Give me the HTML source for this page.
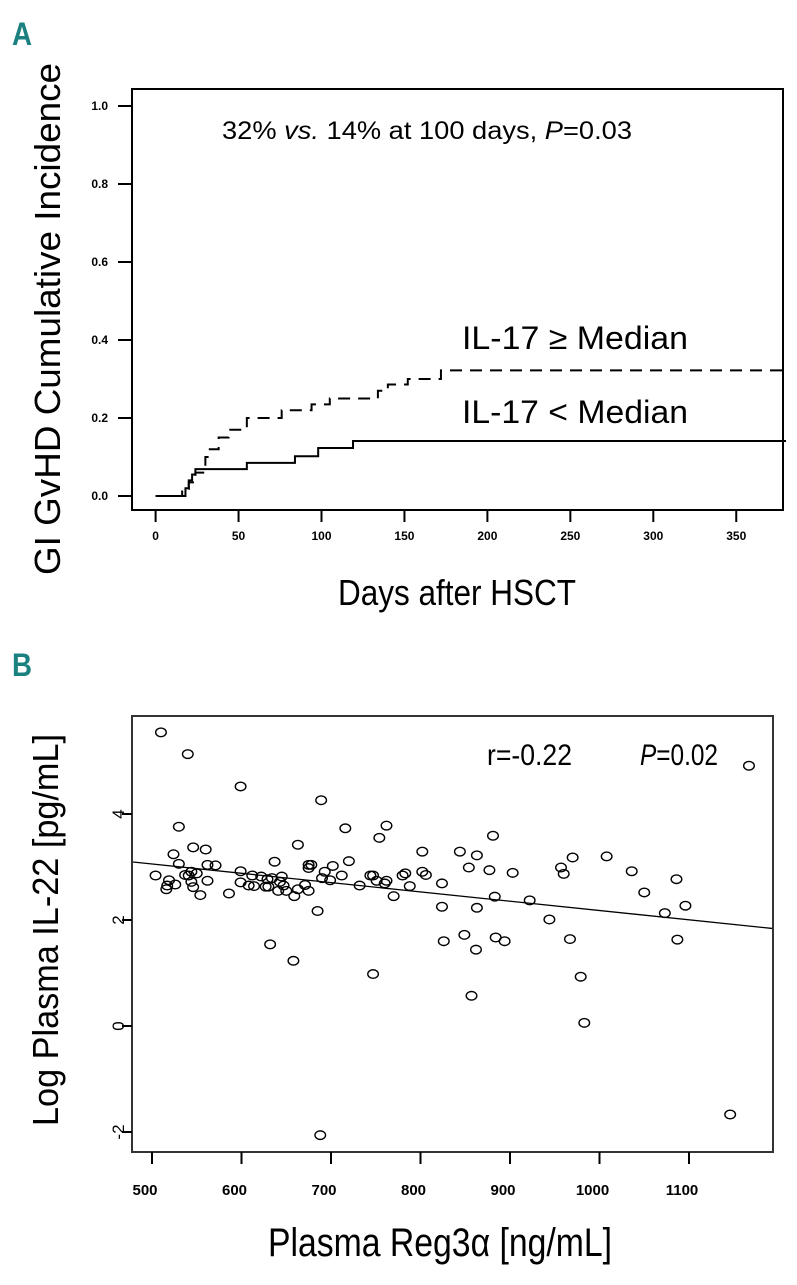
<!DOCTYPE html>
<html><head><meta charset="utf-8">
<style>
body{margin:0;background:#fff;}
svg text{font-family:"Liberation Sans",sans-serif;}
</style></head>
<body>
<svg id="fig" width="797" height="1280" viewBox="0 0 797 1280" xmlns="http://www.w3.org/2000/svg">
<text x="12" y="45" font-size="32" font-weight="bold" fill="#1a8080" textLength="20" lengthAdjust="spacingAndGlyphs">A</text>
<text x="12" y="676" font-size="32" font-weight="bold" fill="#1a8080" textLength="20" lengthAdjust="spacingAndGlyphs">B</text>
<g id="pa"></g>
<g id="pb"></g>
</svg>
<script>
// Panel A data
const xTicksA = [0,50,100,150,200,250,300,350];
const yTicksA = [0.0,0.2,0.4,0.6,0.8,1.0];
const highDays = [0,16,20,24,30,32,38,44,55,76,94,105,134,140,152,172];
const highVals = [0,0.018,0.035,0.06,0.1,0.12,0.15,0.17,0.2,0.22,0.235,0.25,0.27,0.286,0.30,0.322];
const lowDays = [0,18,20,22,24,55,84,98,119];
const lowVals = [0,0.02,0.04,0.055,0.069,0.085,0.102,0.123,0.141];
const endDay = 380;
// Panel B data
const xTicksB = [500,600,700,800,900,1000,1100];
const yTicksB = [-2,0,2,4];
const reg3 = [510,540,599,689,530,716,762,754,663,546,560,524,802,844,863,530,637,720,854,562,571,675,678,675,702,504,519,516,517,526,537,541,544,550,544,546,554,562,586,599,599,608,614,612,622,627,630,629,634,645,643,647,641,650,659,663,671,675,685,690,693,699,712,732,744,747,751,760,762,770,780,783,788,802,806,824,824,863,632,658,747,826,849,862,857,688,1167,881,877,903,957,960,970,1008,1036,1086,1050,883,922,944,1073,1096,884,894,967,1087,979,983,1146];
const il22 = [5.54,5.13,4.52,4.26,3.76,3.73,3.78,3.55,3.42,3.37,3.33,3.24,3.29,3.29,3.22,3.06,3.10,3.11,2.99,3.04,3.03,3.04,3.04,2.98,3.02,2.84,2.75,2.58,2.65,2.67,2.85,2.84,2.91,2.88,2.72,2.62,2.47,2.74,2.50,2.92,2.71,2.65,2.64,2.84,2.82,2.63,2.63,2.77,2.79,2.82,2.72,2.65,2.55,2.55,2.45,2.58,2.66,2.55,2.17,2.79,2.91,2.75,2.84,2.65,2.84,2.84,2.74,2.69,2.74,2.45,2.84,2.88,2.64,2.91,2.85,2.69,2.25,2.23,1.54,1.23,0.98,1.60,1.72,1.44,0.57,-2.06,4.91,3.59,2.94,2.89,2.99,2.87,3.18,3.20,2.92,2.77,2.52,2.44,2.37,2.01,2.13,2.27,1.67,1.60,1.64,1.63,0.93,0.06,-1.67];
const fitIntercept = 3.934;
const fitSlope = -0.001755;

const NS="http://www.w3.org/2000/svg";
function mk(parent,tag,attrs,txt){const e=document.createElementNS(NS,tag);for(const k in attrs)e.setAttribute(k,attrs[k]);if(txt!==undefined)e.textContent=txt;parent.appendChild(e);return e;}

// ---- Panel A ----
const pa=document.getElementById('pa');
const axA={l:132,r:783,t:89,b:510};
const xA=d=>155.6+d*1.659;
const yA=v=>496-v*390;
let e;
e=mk(pa,'rect',{x:axA.l,y:axA.t,width:axA.r-axA.l,height:axA.b-axA.t,fill:'none',stroke:'#000','stroke-width':2});


xTicksA.forEach(t=>{
  e=mk(pa,'line',{x1:xA(t),x2:xA(t),y1:axA.b,y2:axA.b+12,stroke:'#000','stroke-width':2});
  
  
  e=mk(pa,'text',{x:xA(t),y:axA.b+30,'font-size':12,'font-weight':'bold','text-anchor':'middle'},String(t));
  
  
});
yTicksA.forEach(t=>{
  e=mk(pa,'line',{x1:axA.l-14,x2:axA.l,y1:yA(t),y2:yA(t),stroke:'#000','stroke-width':2});
  
  
  e=mk(pa,'text',{x:axA.l-24,y:yA(t)+4,'font-size':12,'font-weight':'bold','text-anchor':'end'},t.toFixed(1));
  
  
});
function stepPath(days,vals){let d=`M${xA(days[0])},${yA(vals[0])}`;for(let i=1;i<days.length;i++){d+=` H${xA(days[i])} V${yA(vals[i])}`;}d+=` H${xA(endDay)}`;return d;}
e=mk(pa,'path',{d:stepPath(highDays,highVals),fill:'none',stroke:'#000','stroke-width':2,'stroke-dasharray':'12,8'});


e=mk(pa,'path',{d:stepPath(lowDays,lowVals),fill:'none',stroke:'#000','stroke-width':2});


e=mk(pa,'text',{x:222,y:139,'font-size':25,textLength:410,lengthAdjust:'spacingAndGlyphs'});
e.innerHTML='32% <tspan font-style="italic">vs.</tspan> 14% at 100 days, <tspan font-style="italic">P</tspan>=0.03';


e=mk(pa,'text',{x:462,y:349,'font-size':32,textLength:226,lengthAdjust:'spacingAndGlyphs'},'IL-17 ≥ Median');


e=mk(pa,'text',{x:462,y:423,'font-size':32,textLength:226,lengthAdjust:'spacingAndGlyphs'},'IL-17 < Median');


e=mk(pa,'text',{x:338,y:605,'font-size':36,textLength:238,lengthAdjust:'spacingAndGlyphs'},'Days after HSCT');


e=mk(pa,'text',{x:0,y:0,'font-size':36,'text-anchor':'middle',textLength:512,lengthAdjust:'spacingAndGlyphs',transform:'translate(60,319) rotate(-90)'},'GI GvHD Cumulative Incidence');



// ---- Panel B ----
const pb=document.getElementById('pb');
const axB={l:132,r:773,t:716,b:1152};
const xB=v=>152+(v-500)*0.895;
const yB=v=>1026-v*53;
const invX=p=>500+(p-152)/0.895;
e=mk(pb,'rect',{x:axB.l,y:axB.t,width:axB.r-axB.l,height:axB.b-axB.t,fill:'none',stroke:'#333','stroke-width':2});


xTicksB.forEach(t=>{
  e=mk(pb,'line',{x1:xB(t),x2:xB(t),y1:axB.b,y2:axB.b+12,stroke:'#000','stroke-width':2});
  
  
  e=mk(pb,'text',{x:xB(t)-7,y:axB.b+43,'font-size':15,'font-weight':'bold','text-anchor':'middle'},String(t));
  
  
});
yTicksB.forEach(t=>{
  e=mk(pb,'line',{x1:axB.l-10,x2:axB.l,y1:yB(t),y2:yB(t),stroke:'#000','stroke-width':2});
  
  
  e=mk(pb,'text',{x:0,y:0,'font-size':17,'text-anchor':'middle',transform:`translate(124,${yB(t)}) rotate(-90)`},String(t));
  
  
});
const x0=invX(axB.l+1), x1=invX(axB.r-1);
e=mk(pb,'line',{x1:xB(x0),y1:yB(fitIntercept+fitSlope*x0),x2:xB(x1),y2:yB(fitIntercept+fitSlope*x1),stroke:'#000','stroke-width':1.3});


reg3.forEach((v,i)=>{
  e=mk(pb,'ellipse',{cx:xB(v),cy:yB(il22[i]),rx:5.3,ry:4.3,fill:'none',stroke:'#000','stroke-width':1.4});
  
  
});
e=mk(pb,'text',{x:487,y:765,'font-size':30,textLength:85,lengthAdjust:'spacingAndGlyphs'},'r=-0.22');


e=mk(pb,'text',{x:640,y:765,'font-size':30,textLength:78,lengthAdjust:'spacingAndGlyphs'});
e.innerHTML='<tspan font-style="italic">P</tspan>=0.02';


e=mk(pb,'text',{x:268,y:1256,'font-size':40,textLength:344,lengthAdjust:'spacingAndGlyphs'},'Plasma Reg3α [ng/mL]');


e=mk(pb,'text',{x:0,y:0,'font-size':36,'text-anchor':'middle',textLength:392,lengthAdjust:'spacingAndGlyphs',transform:'translate(58,930) rotate(-90)'},'Log Plasma IL-22 [pg/mL]');


</script>
</body></html>
